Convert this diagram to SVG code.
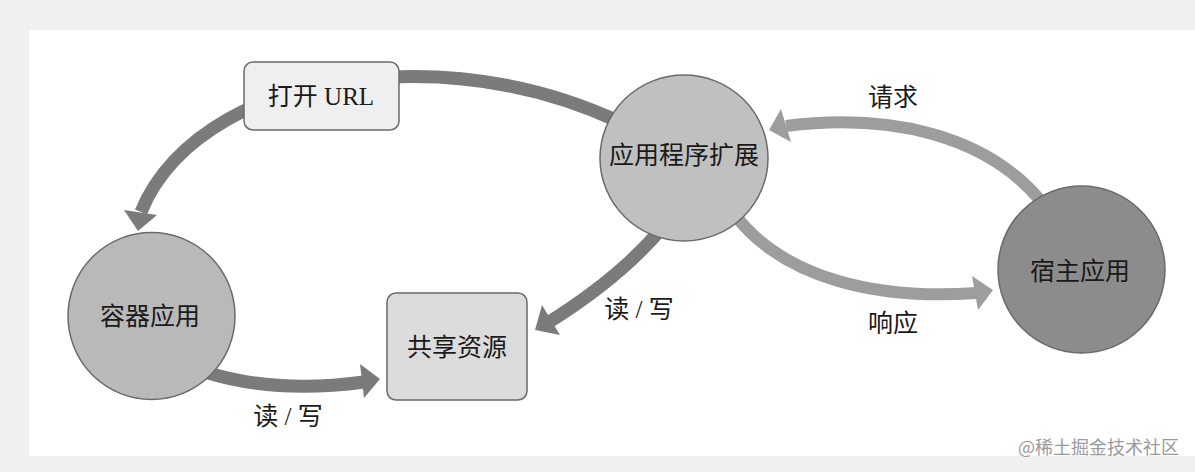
<svg xmlns="http://www.w3.org/2000/svg" width="1195" height="472" viewBox="0 0 1195 472">
<style>
.bg{fill:#f0f0f0}
.panel{fill:#ffffff}
.dark{fill:none;stroke:#7b7b7b;stroke-width:13}
.light{fill:none;stroke:#9d9d9d;stroke-width:12}
.headd{fill:#7b7b7b}
.headl{fill:#9d9d9d}
.node{stroke:#6a6a6a;stroke-width:1.5}
.t{font-family:"Liberation Serif","Noto Sans CJK SC",serif;font-size:25px;fill:#1a1a1a;text-anchor:middle;dominant-baseline:central}
.wm{font-family:"Noto Sans CJK SC","Liberation Sans",sans-serif;font-size:18px;fill:#9a9a9a;stroke:#ffffff;stroke-width:0.6;paint-order:stroke}
</style>
<rect class="bg" x="0" y="0" width="1195" height="472"/>
<rect class="panel" x="29" y="30" width="1166" height="426"/>
<g id="connectors">
  <path class="dark" d="M 620,122 C 540,85 460,74 390,77 C 260,82 170,140 141,212"/>
  <polygon class="headd" points="138,231 124,210 157,215"/>
  <path class="dark" d="M 205,372 Q 275,394 364,382" stroke-width="12"/>
  <polygon class="headd" points="380,379 360,364 364,398"/>
  <path class="dark" d="M 662,228 Q 620,278 546,324" stroke-width="13"/>
  <polygon class="headd" points="535,330 542,305 560,335"/>
  <path class="light" d="M 1040,200 C 985,135 890,113 786,126"/>
  <polygon class="headl" points="769,130 781,109 791,142"/>
  <path class="light" d="M 735,215 C 785,280 880,300 976,293"/>
  <polygon class="headl" points="993,290 972,276 978,310"/>
</g>
<g id="node-open-url">
  <rect class="node" x="244" y="62" width="155" height="68" rx="9" fill="#efefef"/>
  <text class="t" x="321" y="96">打开 URL</text>
</g>
<g id="node-app-extension">
  <ellipse class="node" cx="684" cy="158" rx="84" ry="83" fill="#c0c0c0"/>
  <text class="t" x="684" y="155">应用程序扩展</text>
</g>
<g id="node-host-app">
  <ellipse class="node" cx="1081.5" cy="269.5" rx="83.5" ry="83.5" fill="#8c8c8c"/>
  <text class="t" x="1080" y="271">宿主应用</text>
</g>
<g id="node-container-app">
  <ellipse class="node" cx="151.5" cy="316" rx="83.5" ry="83.5" fill="#b9b9b9"/>
  <text class="t" x="150" y="316">容器应用</text>
</g>
<g id="node-shared-resource">
  <rect class="node" x="387" y="293" width="140" height="107" rx="9" fill="#dcdcdc"/>
  <text class="t" x="457" y="347">共享资源</text>
</g>
<g id="labels">
  <text class="t" x="288" y="416">读 / 写</text>
  <text class="t" x="639" y="309">读 / 写</text>
  <text class="t" x="893" y="97">请求</text>
  <text class="t" x="893" y="323">响应</text>
</g>
<text class="wm" x="1018" y="454">@稀土掘金技术社区</text>
</svg>
